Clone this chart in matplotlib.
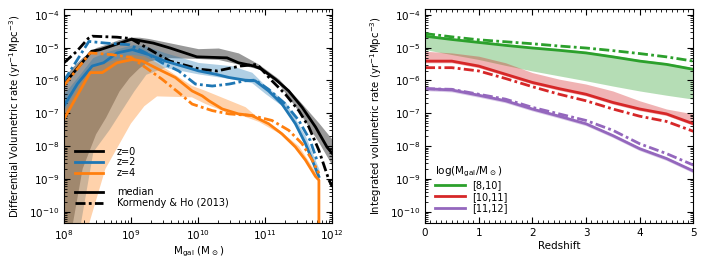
import numpy as np
import matplotlib
matplotlib.use('Agg')
import matplotlib.pyplot as plt
from matplotlib.lines import Line2D
from matplotlib.ticker import LogLocator, MultipleLocator, NullFormatter

# ---- left panel: differential rate vs galaxy mass (log10 values) ----
# z=0 median
z0_med_x = [8.0, 8.41, 8.54, 9.01, 9.33, 9.58, 9.98, 10.43, 10.6, 10.83, 10.95, 11.15, 11.35, 11.55, 11.75, 11.92, 12.0]
z0_med_y = [-6.11, -5.11, -5.06, -4.74, -4.86, -5.01, -5.28, -5.31, -5.46, -5.56, -5.66, -5.96, -6.32, -6.82, -7.42, -8.03, -8.23]
# z=0 Kormendy & Ho
z0_kh_x = [8.0, 8.19, 8.36, 8.42, 8.79, 8.99, 9.28, 9.58, 10.03, 10.28, 10.63, 10.88, 11.10, 11.30, 11.50, 11.65, 11.80, 11.95, 12.0]
z0_kh_y = [-5.46, -5.11, -4.72, -4.65, -4.68, -4.72, -5.06, -5.41, -5.66, -5.71, -5.56, -5.51, -6.01, -6.42, -6.92, -7.42, -8.13, -9.04, -9.24]
# z=2 median
z2_med_x = [8.0, 8.2, 8.42, 8.59, 8.79, 9.02, 9.26, 9.51, 9.76, 10.01, 10.26, 10.46, 10.70, 10.85, 11.05, 11.25, 11.45, 11.60, 11.72, 11.80]
z2_med_y = [-6.77, -6.1, -5.56, -5.46, -5.16, -5.06, -5.21, -5.41, -5.56, -5.71, -5.81, -5.91, -5.99, -6.01, -6.32, -6.72, -7.32, -7.93, -8.53, -8.93]
# z=2 Kormendy & Ho
z2_kh_x = [8.0, 8.37, 8.62, 8.97, 9.22, 9.46, 9.71, 9.96, 10.21, 10.46, 10.70, 10.85, 11.05, 11.30, 11.50, 11.67, 11.77]
z2_kh_y = [-6.01, -4.81, -4.86, -4.91, -5.16, -5.46, -5.71, -6.11, -6.17, -6.11, -6.01, -5.99, -6.27, -6.72, -7.22, -7.83, -8.43]
# z=4 median (drops to zero at the last mass bin)
z4_med_x = [8.0, 8.39, 8.57, 8.79, 9.02, 9.17, 9.41, 9.66, 9.91, 10.06, 10.16, 10.36, 10.6, 10.8, 11.05, 11.25, 11.45, 11.60, 11.75, 11.80, 11.80]
z4_med_y = [-7.17, -5.76, -5.76, -5.46, -5.36, -5.41, -5.66, -5.91, -6.32, -6.47, -6.62, -6.87, -7.02, -7.07, -7.32, -7.63, -8.03, -8.43, -8.93, -9.04, -20.0]
# z=4 Kormendy & Ho
z4_kh_x = [8.0, 8.39, 8.7, 9.0, 9.22, 9.46, 9.71, 9.91, 10.21, 10.46, 10.80, 11.10, 11.35, 11.55, 11.70, 11.80]
z4_kh_y = [-6.15, -5.16, -5.21, -5.3, -5.61, -5.96, -6.37, -6.72, -6.92, -7.02, -7.07, -7.22, -7.52, -7.93, -8.43, -8.83]

# scatter bands
z0_band_x = [8.0, 8.12, 8.27, 8.47, 8.62, 8.82, 8.97, 9.12, 9.26, 9.5, 10.0, 10.3, 10.6, 10.9, 11.2, 11.5, 11.8, 12.0]
z0_band_hi = [-5.9, -5.6, -5.3, -5.0, -4.9, -4.75, -4.68, -4.68, -4.72, -4.82, -5.03, -5.01, -5.16, -5.5, -5.95, -6.6, -7.3, -7.8]
z0_band_lo = [-12, -10.4, -8.68, -7.63, -7.12, -6.32, -5.91, -5.61, -5.41, -5.3, -5.33, -5.36, -5.5, -5.65, -6.1, -6.95, -7.9, -8.6]
z2_band_x = [8.0, 8.24, 8.43, 8.67, 9.04, 9.22, 9.5, 10.0, 10.5, 10.8, 11.0, 11.3, 11.6, 11.8]
z2_band_hi = [-6.4, -5.8, -5.3, -5.1, -4.9, -4.95, -5.15, -5.45, -5.55, -5.75, -6.15, -6.65, -7.7, -8.7]
z2_band_lo = [-12, -10.4, -8.17, -7.5, -6.32, -5.81, -5.6, -5.8, -5.95, -6.07, -6.4, -6.85, -8.0, -9.1]
z4_band_x = [8.0, 8.36, 8.61, 8.99, 9.19, 9.38, 9.9, 10.1, 10.4, 10.7, 10.9, 11.2, 11.5, 11.8]
z4_band_hi = [-6.9, -5.6, -5.45, -5.2, -5.25, -5.45, -6.15, -6.3, -6.55, -6.8, -7.15, -7.5, -8.0, -8.95]
z4_band_lo = [-12, -10.4, -8.68, -7.3, -6.77, -6.47, -6.5, -6.7, -6.95, -7.1, -7.25, -7.6, -8.15, -9.1]

# ---- right panel: integrated rate vs redshift (log10 values) ----
redshift = [0, 0.5, 1, 1.5, 2, 2.5, 3, 3.5, 4, 4.5, 5]
m8_10_med = [-4.65, -4.75, -4.84, -4.93, -5.01, -5.08, -5.16, -5.28, -5.41, -5.51, -5.66]
m8_10_kh = [-4.57, -4.67, -4.76, -4.82, -4.88, -4.95, -5.01, -5.09, -5.18, -5.28, -5.41]
m8_10_lo = [-5.06, -5.21, -5.36, -5.54, -5.71, -5.86, -6.01, -6.17, -6.32, -6.45, -6.57]
m10_11_med = [-5.41, -5.41, -5.56, -5.81, -6.06, -6.25, -6.42, -6.67, -6.87, -7.02, -7.32]
m10_11_kh = [-5.61, -5.61, -5.71, -5.94, -6.19, -6.42, -6.62, -6.87, -7.09, -7.25, -7.55]
m10_11_hi = [-5.11, -5.16, -5.26, -5.46, -5.76, -5.96, -6.11, -6.32, -6.62, -6.87, -7.02]
m11_12_med = [-6.25, -6.29, -6.45, -6.62, -6.87, -7.09, -7.32, -7.68, -8.08, -8.38, -8.76]
m11_12_kh = [-6.25, -6.27, -6.42, -6.57, -6.82, -7.02, -7.22, -7.52, -7.93, -8.23, -8.58]

C_BLUE, C_ORANGE, C_GREEN, C_RED, C_PURPLE = '#1f77b4', '#ff7f0e', '#2ca02c', '#d62728', '#9467bd'
LW = 2
DASHDOT = (0, (3.6, 1.2, 1.0, 1.2))


def p(vals):
    return 10.0 ** np.asarray(vals, dtype=float)


def style_axis(ax):
    ax.tick_params(which='both', direction='in', top=True, right=True, labelsize=7.5)
    ax.tick_params(which='major', length=4, width=0.8)
    ax.tick_params(which='minor', length=2, width=0.6)
    ax.set_yscale('log')
    ax.set_ylim(4.5e-11, 1.5e-4)
    ax.yaxis.set_major_locator(LogLocator(base=10, numticks=20))
    ax.yaxis.set_minor_locator(LogLocator(base=10, subs=np.arange(2, 10), numticks=50))
    ax.yaxis.set_minor_formatter(NullFormatter())


plt.rcParams['font.family'] = 'DejaVu Sans'
fig = plt.figure(figsize=(7.06, 2.68), dpi=100)
ax1 = fig.add_axes([0.0907, 0.168, 0.380, 0.798])
ax2 = fig.add_axes([0.602, 0.168, 0.380, 0.798])

# left panel
ax1.fill_between(p(z0_band_x), p(z0_band_lo), p(z0_band_hi), color='black', alpha=0.4, lw=0)
ax1.fill_between(p(z2_band_x), p(z2_band_lo), p(z2_band_hi), color=C_BLUE, alpha=0.35, lw=0)
ax1.fill_between(p(z4_band_x), p(z4_band_lo), p(z4_band_hi), color=C_ORANGE, alpha=0.35, lw=0)
ax1.plot(p(z0_med_x), p(z0_med_y), color='black', lw=LW)
ax1.plot(p(z0_kh_x), p(z0_kh_y), color='black', lw=LW, ls=DASHDOT)
ax1.plot(p(z2_med_x), p(z2_med_y), color=C_BLUE, lw=LW)
ax1.plot(p(z2_kh_x), p(z2_kh_y), color=C_BLUE, lw=LW, ls=DASHDOT)
ax1.plot(p(z4_med_x), p(z4_med_y), color=C_ORANGE, lw=LW)
ax1.plot(p(z4_kh_x), p(z4_kh_y), color=C_ORANGE, lw=LW, ls=DASHDOT)
ax1.set_xscale('log')
ax1.set_xlim(1e8, 1e12)
style_axis(ax1)
ax1.xaxis.set_minor_formatter(NullFormatter())
ax1.set_xlabel(r'M$_{\rm gal}$ (M$_\odot$)', fontsize=7.5, labelpad=2)
ax1.set_ylabel(r'Differential Volumetric rate (yr$^{-1}$Mpc$^{-3}$)', fontsize=7.3)

z_handles = [Line2D([], [], color=c, lw=LW) for c in ('black', C_BLUE, C_ORANGE)]
leg1 = ax1.legend(z_handles, ['z=0', 'z=2', 'z=4'], loc='lower left',
                  bbox_to_anchor=(0.026, 0.19), borderaxespad=0, frameon=False,
                  fontsize=7, handlelength=2.9, handletextpad=1.4, labelspacing=0.1)
ax1.add_artist(leg1)
m_handles = [Line2D([], [], color='black', lw=LW),
             Line2D([], [], color='black', lw=LW, ls=DASHDOT)]
ax1.legend(m_handles, ['median', 'Kormendy & Ho (2013)'], loc='lower left',
           bbox_to_anchor=(0.026, 0.05), borderaxespad=0, frameon=False,
           fontsize=7, handlelength=2.9, handletextpad=1.4, labelspacing=0.1)

# right panel
ax2.fill_between(redshift, p(m8_10_lo), p(np.add(m8_10_med, 0.05)), color=C_GREEN, alpha=0.35, lw=0)
ax2.fill_between(redshift, p(np.subtract(m10_11_med, 0.05)), p(m10_11_hi), color=C_RED, alpha=0.35, lw=0)
ax2.fill_between(redshift, p(np.subtract(m11_12_med, 0.06)), p(np.add(m11_12_med, 0.04)), color=C_PURPLE, alpha=0.35, lw=0)
ax2.plot(redshift, p(m8_10_med), color=C_GREEN, lw=LW, label='[8,10]')
ax2.plot(redshift, p(m8_10_kh), color=C_GREEN, lw=LW, ls=DASHDOT)
ax2.plot(redshift, p(m10_11_med), color=C_RED, lw=LW, label='[10,11]')
ax2.plot(redshift, p(m10_11_kh), color=C_RED, lw=LW, ls=DASHDOT)
ax2.plot(redshift, p(m11_12_med), color=C_PURPLE, lw=LW, label='[11,12]')
ax2.plot(redshift, p(m11_12_kh), color=C_PURPLE, lw=LW, ls=DASHDOT)
ax2.set_xlim(0, 5)
style_axis(ax2)
ax2.xaxis.set_major_locator(MultipleLocator(1))
ax2.xaxis.set_minor_locator(MultipleLocator(0.1))
ax2.set_xlabel('Redshift', fontsize=7.5, labelpad=2)
ax2.set_ylabel(r'Integrated volumetric rate (yr$^{-1}$Mpc$^{-3}$)', fontsize=7.3)
ax2.legend(loc='lower left', frameon=False, fontsize=7, title=r'log(M$_{\rm gal}$/M$_\odot$)',
           title_fontsize=7.5, alignment='left', handlelength=3.1, handletextpad=0.7,
           labelspacing=0.15, borderaxespad=0.6)

fig.savefig('out.png', dpi=100)
